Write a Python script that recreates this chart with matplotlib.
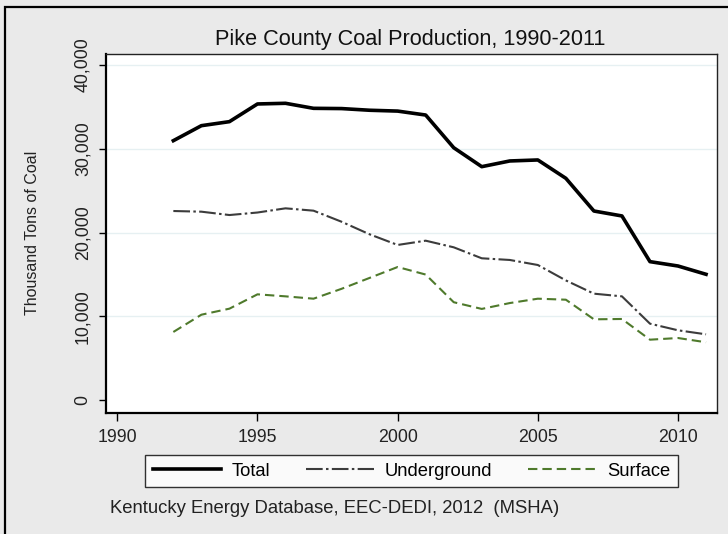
import matplotlib
matplotlib.use("Agg")
import matplotlib.pyplot as plt
from matplotlib.patches import Rectangle
from matplotlib.ticker import FuncFormatter

plt.rcParams['font.family'] = ['Liberation Sans', 'DejaVu Sans']

years = list(range(1992, 2012))
total = [30970, 32760, 33240, 35350, 35430, 34830, 34800, 34600, 34500, 34030,
         30130, 27870, 28550, 28670, 26480, 22580, 21990, 16540, 16020, 15030]
underground = [22580, 22500, 22100, 22400, 22900, 22620, 21300, 19800, 18530, 19040,
               18250, 16940, 16740, 16140, 14300, 12720, 12400, 9140, 8350, 7870]
surface = [8150, 10210, 10930, 12640, 12400, 12120, 13300, 14600, 15900, 15000,
           11700, 10900, 11600, 12120, 12000, 9660, 9700, 7230, 7430, 6920]
series_names = ["Total", "Underground", "Surface"]
x_ticks = [1990, 1995, 2000, 2005, 2010]
y_ticks = [0, 10000, 20000, 30000, 40000]

W, H = 728, 534
fig = plt.figure(figsize=(W / 100, H / 100), dpi=100)
fig.patch.set_facecolor('#EAEAEA')

# outer frame (left and top edges visible)
fig.patches.append(Rectangle((5 / W, -0.5), 2.0, (1 - 7 / H) + 0.5, transform=fig.transFigure,
                             fill=False, edgecolor='black', linewidth=1.6, zorder=0))

left, right, top, bottom = 105.5, 716.7, 53.5, 412.7
ax = fig.add_axes([left / W, 1 - bottom / H, (right - left) / W, (bottom - top) / H])
ax.set_facecolor('white')

ax.plot(years, total, color='black', lw=2.6, solid_joinstyle='round', label=series_names[0], zorder=3)
ax.plot(years, underground, color='#3C3C3C', lw=1.5, dashes=(8, 1.6, 1.2, 1.6), label=series_names[1], zorder=3)
ax.plot(years, surface, color='#4F7A2C', lw=1.5, dashes=(4.5, 2.4), label=series_names[2], zorder=3)

ax.set_xlim(1989.58, 2011.38)
ax.set_ylim(-1480, 41370)
ax.set_xticks(x_ticks)
ax.set_yticks(y_ticks)
ax.yaxis.set_major_formatter(FuncFormatter(lambda v, p: f"{int(v):,}"))
for yv in y_ticks[1:]:
    ax.axhline(yv, color='#E6F0F2', lw=1.0, zorder=1)

ax.tick_params(axis='y', direction='out', length=5, width=1, pad=5, labelsize=12.8,
               labelrotation=90, color='black')
ax.tick_params(axis='x', direction='out', length=6, width=1, pad=6, labelsize=12.8, color='black')
for lab in ax.get_yticklabels():
    lab.set_verticalalignment('center')
    lab.set_color('#222222')
for lab in ax.get_xticklabels():
    lab.set_color('#222222')

ax.spines['left'].set_linewidth(1.6)
ax.spines['bottom'].set_linewidth(1.6)
ax.spines['top'].set_linewidth(1.0)
ax.spines['right'].set_linewidth(1.0)
ax.spines['top'].set_color('#222222')
ax.spines['right'].set_color('#222222')

fig.text(410 / W, 1 - 45 / H, "Pike County Coal Production, 1990-2011", ha='center', va='baseline',
         fontsize=15.6, color='#111111')
fig.text(33 / W, 1 - 233 / H, "Thousand Tons of Coal", ha='center', va='center', rotation=90,
         fontsize=11.5, color='#222222')
fig.text(110 / W, 1 - 513 / H, "Kentucky Energy Database, EEC-DEDI, 2012  (MSHA)", ha='left',
         va='baseline', fontsize=13.3, color='#222222')

leg = fig.legend(loc='center', bbox_to_anchor=((147 + 676) / 2 / W, 1 - 471 / H), ncol=3,
                 fontsize=13.2, frameon=True, fancybox=False, edgecolor='black',
                 handlelength=3.7, handletextpad=0.6, columnspacing=1.95, borderpad=0.4)
leg.get_frame().set_linewidth(1.0)
leg.get_frame().set_facecolor('white')

fig.savefig("out.png", dpi=100, facecolor=fig.get_facecolor())
